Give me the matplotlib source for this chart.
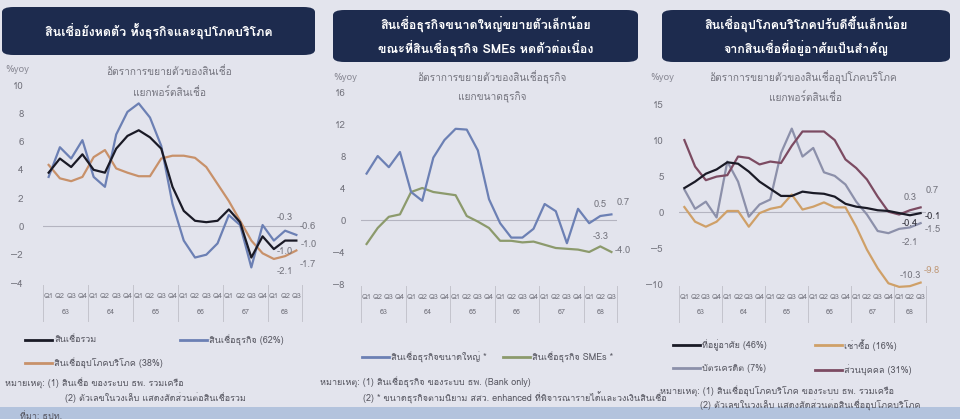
import matplotlib
matplotlib.use('Agg')
import matplotlib.pyplot as plt
from matplotlib import font_manager
from matplotlib.ft2font import FT2Font
from matplotlib.patches import FancyBboxPatch, Rectangle
from matplotlib.lines import Line2D
import matplotlib.transforms as mtransforms

# data (%yoy), Q1/63 .. Q3/68
quarters = ['Q1', 'Q2', 'Q3', 'Q4'] * 5 + ['Q1', 'Q2', 'Q3']
years = ['63', '64', '65', '66', '67', '68']

# panel 1
total_loans = [3.8, 4.8, 4.2, 5.1, 4.0, 3.8, 5.5, 6.4, 6.8, 6.3, 5.5, 2.8,
               1.1, 0.4, 0.3, 0.4, 1.2, 0.3, -2.2, -0.7, -1.6, -1.0, -1.0]
business_loans = [3.5, 5.6, 4.8, 6.1, 3.5, 2.8, 6.5, 8.1, 8.7, 7.7, 5.7, 1.6,
                  -1.0, -2.2, -2.0, -1.2, 0.8, 0.1, -2.9, 0.1, -1.0, -0.3, -0.6]
consumer_loans = [4.35, 3.4, 3.2, 3.5, 4.9, 5.4, 4.1, 3.8, 3.55, 3.55, 4.8, 5.0,
                  5.0, 4.85, 4.2, 3.0, 1.8, 0.4, -1.0, -1.9, -2.3, -2.1, -1.7]

# panel 2
large_biz = [5.8, 8.0, 6.6, 8.5, 3.5, 2.4, 7.8, 10.0, 11.4, 11.3, 8.7, 2.6,
             -0.4, -2.2, -2.2, -1.1, 2.0, 1.1, -2.9, 1.4, -0.4, 0.5, 0.7]
sme_biz = [-3.0, -1.0, 0.4, 0.7, 3.5, 4.0, 3.5, 3.3, 3.1, 0.5, -0.2, -1.0,
           -2.6, -2.6, -2.8, -2.7, -3.1, -3.5, -3.6, -3.7, -4.0, -3.3, -4.0]

# panel 3
housing = [3.4, 4.3, 5.4, 6.0, 7.0, 6.8, 5.7, 4.3, 3.3, 2.3, 2.3, 2.9,
           2.7, 2.6, 2.2, 1.2, 0.8, 0.6, 0.3, 0.2, -0.1, -0.4, -0.1]
hire_purchase = [0.75, -1.3, -2.0, -1.3, 0.2, 0.2, -2.0, -0.1, 0.5, 0.8, 2.5, 0.4,
                 0.8, 1.4, 0.7, 0.7, -2.0, -5.2, -7.8, -9.9, -10.4, -10.3, -9.8]
credit_card = [3.2, 0.5, 1.5, -0.7, 7.1, 4.3, -0.6, 1.1, 1.8, 8.3, 11.7, 7.8,
               9.0, 5.6, 5.1, 3.9, 1.5, -0.3, -2.6, -2.9, -2.3, -2.1, -1.5]
personal = [10.1, 6.4, 4.5, 5.0, 5.2, 7.8, 7.6, 6.7, 7.1, 6.9, 9.3, 11.3,
            11.3, 11.3, 10.1, 7.4, 6.2, 4.6, 2.2, 0.1, -0.3, 0.3, 0.7]


def find_thai_font():
    for f in font_manager.fontManager.ttflist:
        try:
            if 0x0E2A in FT2Font(f.fname).get_charmap():
                return f.name
        except Exception:
            pass
    return None


thai = find_thai_font()
fams = [thai, 'DejaVu Sans'] if thai else ['DejaVu Sans']
plt.rcParams['font.family'] = fams

W, H = 960, 419
BG = '#e3e4ed'
NAVY = '#1d2b4e'
GRAY = '#75757f'
C_BLACK = '#1a1a26'
C_BLUE = '#6c80b4'
C_ORANGE = '#c8916a'
C_GREEN = '#8c9a6c'
C_GRAY = '#8c90aa'
C_PURPLE = '#7c4b62'
C_ORANGE3 = '#cfa068'

fig = plt.figure(figsize=(W / 100, H / 100), dpi=100)
fig.patch.set_facecolor(BG)


def fx(x):
    return x / W


def fy(y):
    return 1 - y / H


def ftext(x, y, s, **kw):
    kw.setdefault('color', GRAY)
    kw.setdefault('fontsize', 6.5)
    kw.setdefault('va', 'center')
    fig.text(fx(x), fy(y), s, **kw)


def header(x0, y0, x1, y1, lines):
    box = FancyBboxPatch((fx(x0), fy(y1)), fx(x1) - fx(x0), fy(y0) - fy(y1),
                         boxstyle='round,pad=0,rounding_size=0.012',
                         transform=fig.transFigure, facecolor=NAVY,
                         edgecolor='none')
    fig.patches.append(box)
    cx = (x0 + x1) / 2
    n = len(lines)
    for k, s in enumerate(lines):
        yy = (y0 + y1) / 2 + (k - (n - 1) / 2) * 24
        fig.text(fx(cx), fy(yy), s, color='white', fontsize=9,
                 fontweight='bold', ha='center', va='center')


def legend_item(x, y, color, label):
    fig.add_artist(Line2D([fx(x), fx(x + 27)], [fy(y), fy(y)],
                          transform=fig.transFigure, color=color, lw=2))
    ftext(x + 29, y, label, color='#55555f')


def panel(left, top, right, bottom, ymin, ymax, yticks, series, pad):
    ax = fig.add_axes([fx(left), fy(bottom), fx(right) - fx(left), fy(top) - fy(bottom)])
    ax.set_facecolor('none')
    for s in ax.spines.values():
        s.set_visible(False)
    ax.set_xlim(-0.5, len(quarters) - 0.5)
    ax.set_ylim(ymin, ymax)
    ax.axhline(0, color='#b4b4c0', lw=0.8, zorder=1)
    for vals, color in series:
        ax.plot(range(len(quarters)), vals, color=color, lw=1.6,
                clip_on=False, zorder=3)
    ax.set_yticks(yticks)
    ax.tick_params(axis='y', length=0, pad=pad, labelsize=7, labelcolor=GRAY)
    ax.set_xticks(range(len(quarters)))
    ax.set_xticklabels(quarters)
    ax.tick_params(axis='x', length=0, pad=7, labelsize=5.2, labelcolor=GRAY)
    trans = mtransforms.blended_transform_factory(ax.transData, ax.transAxes)
    h = bottom - top
    for k in range(len(years) + 1):
        xs = min(4 * k, len(quarters)) - 0.5
        ax.plot([xs, xs], [-2 / h, -38 / h], transform=trans, color='#c4c4cc',
                lw=0.7, clip_on=False)
    for k, yr in enumerate(years):
        xc = (4 * k + min(4 * k + 4, len(quarters)) - 1) / 2
        ax.text(xc, -29 / h, yr, transform=trans, ha='center', va='center',
                fontsize=5.2, color=GRAY)
    return ax


def lab(ax, i, v, s, dx, dy, ha='center', color=GRAY):
    ax.annotate(s, (i, v), xytext=(dx * 0.72, dy * 0.72), textcoords='offset points',
                ha=ha, va='center', fontsize=6.8, color=color, annotation_clip=False)


# ---------------- panel 1 ----------------
header(2, 7, 315, 55, ['สินเชื่อยังหดตัว ทั้งธุรกิจและอุปโภคบริโภค'])
ftext(5, 70, '%yoy', color='#8a8a95', fontsize=7)
ftext(169, 72, 'อัตราการขยายตัวของสินเชื่อ', ha='center', fontsize=7.3)
ftext(169, 92, 'แยกพอร์ตสินเชื่อ', ha='center', fontsize=7.3)
ax1 = panel(43, 85, 302, 283, -4, 10, range(-4, 11, 2),
            [(consumer_loans, C_ORANGE), (business_loans, C_BLUE),
             (total_loans, C_BLACK)], 14)
lab(ax1, 21, business_loans[21], '-0.3', 0, 13)
lab(ax1, 22, business_loans[22], '-0.6', 3, 8, ha='left')
lab(ax1, 22, total_loans[22], '-1.0', 4, -4, ha='left')
lab(ax1, 21, total_loans[21], '-1.0', 0, -11)
lab(ax1, 21, consumer_loans[21], '-2.1', 0, -15)
lab(ax1, 22, consumer_loans[22], '-1.7', 3, -14, ha='left')
legend_item(25, 340, C_BLACK, 'สินเชื่อรวม')
legend_item(180, 340, C_BLUE, 'สินเชื่อธุรกิจ (62%)')
legend_item(25, 363, C_ORANGE, 'สินเชื่ออุปโภคบริโภค (38%)')
ftext(5, 383, 'หมายเหตุ: (1) สินเชื่อ ของระบบ ธพ. รวมเครือ', color='#55555f')
ftext(65, 398, '(2) ตัวเลขในวงเล็บ แสดงสัดส่วนต่อสินเชื่อรวม', color='#55555f')

# ---------------- panel 2 ----------------
header(333, 10, 638, 62, ['สินเชื่อธุรกิจขนาดใหญ่ขยายตัวเล็กน้อย',
                          'ขณะที่สินเชื่อธุรกิจ SMEs หดตัวต่อเนื่อง'])
ftext(333, 77, '%yoy', color='#8a8a95', fontsize=7)
ftext(492, 77, 'อัตราการขยายตัวของสินเชื่อธุรกิจ', ha='center', fontsize=7.3)
ftext(492, 97, 'แยกขนาดธุรกิจ', ha='center', fontsize=7.3)
ax2 = panel(361, 92, 617, 284, -8, 16, range(-8, 17, 4),
            [(sme_biz, C_GREEN), (large_biz, C_BLUE)], 11)
lab(ax2, 21, large_biz[21], '0.5', 0, 12)
lab(ax2, 22, large_biz[22], '0.7', 12, 12)
lab(ax2, 21, sme_biz[21], '-3.3', 0, 10)
lab(ax2, 22, sme_biz[22], '-4.0', 3, 2, ha='left')
legend_item(362, 357, C_BLUE, 'สินเชื่อธุรกิจขนาดใหญ่ *')
legend_item(503, 357, C_GREEN, 'สินเชื่อธุรกิจ SMEs *')
ftext(320, 382, 'หมายเหตุ: (1) สินเชื่อธุรกิจ ของระบบ ธพ. (Bank only)', color='#55555f')
ftext(363, 398, '(2) * ขนาดธุรกิจตามนิยาม สสว. enhanced ที่พิจารณารายได้และวงเงินสินเชื่อ',
      color='#55555f')

# ---------------- panel 3 ----------------
header(662, 10, 950, 62, ['สินเชื่ออุปโภคบริโภคปรับดีขึ้นเล็กน้อย',
                          'จากสินเชื่อที่อยู่อาศัยเป็นสำคัญ'])
ftext(650, 78, '%yoy', color='#8a8a95', fontsize=7)
ftext(803, 77, 'อัตราการขยายตัวของสินเชื่ออุปโภคบริโภค', ha='center', fontsize=7.3)
ftext(805, 97, 'แยกพอร์ตสินเชื่อ', ha='center', fontsize=7.3)
ax3 = panel(679, 105, 926, 284, -10, 15, range(-10, 16, 5),
            [(hire_purchase, C_ORANGE3), (credit_card, C_GRAY),
             (personal, C_PURPLE), (housing, C_BLACK)], 11)
lab(ax3, 21, personal[21], '0.3', 0, 13)
lab(ax3, 22, personal[22], '0.7', 12, 17)
lab(ax3, 22, housing[22], '-0.1', 4, -3, ha='left', color='#33333d')
lab(ax3, 21, housing[21], '-0.4', 0, -8, color='#33333d')
lab(ax3, 22, credit_card[22], '-1.5', 4, -6, ha='left')
lab(ax3, 21, credit_card[21], '-2.1', 0, -15)
lab(ax3, 22, hire_purchase[22], '-9.8', 11, 12, color='#c09a7a')
lab(ax3, 21, hire_purchase[21], '-10.3', 0, 11)
legend_item(673, 345, C_BLACK, 'ที่อยู่อาศัย (46%)')
legend_item(815, 345, C_ORANGE3, 'เช่าซื้อ (16%)')
legend_item(673, 368, C_GRAY, 'บัตรเครดิต (7%)')
legend_item(815, 370, C_PURPLE, 'ส่วนบุคคล (31%)')
ftext(660, 391, 'หมายเหตุ: (1) สินเชื่ออุปโภคบริโภค ของระบบ ธพ. รวมเครือ', color='#55555f')
ftext(700, 405, '(2) ตัวเลขในวงเล็บ แสดงสัดส่วนต่อสินเชื่ออุปโภคบริโภค', color='#55555f')

# bottom band
fig.patches.append(Rectangle((0, 0), 1, fy(407), transform=fig.transFigure,
                             facecolor='#b3c3dd', edgecolor='none', zorder=0))
ftext(20, 416, 'ที่มา: ธปท.', color='#55555f')

fig.savefig('out.png', dpi=100, facecolor=BG)
